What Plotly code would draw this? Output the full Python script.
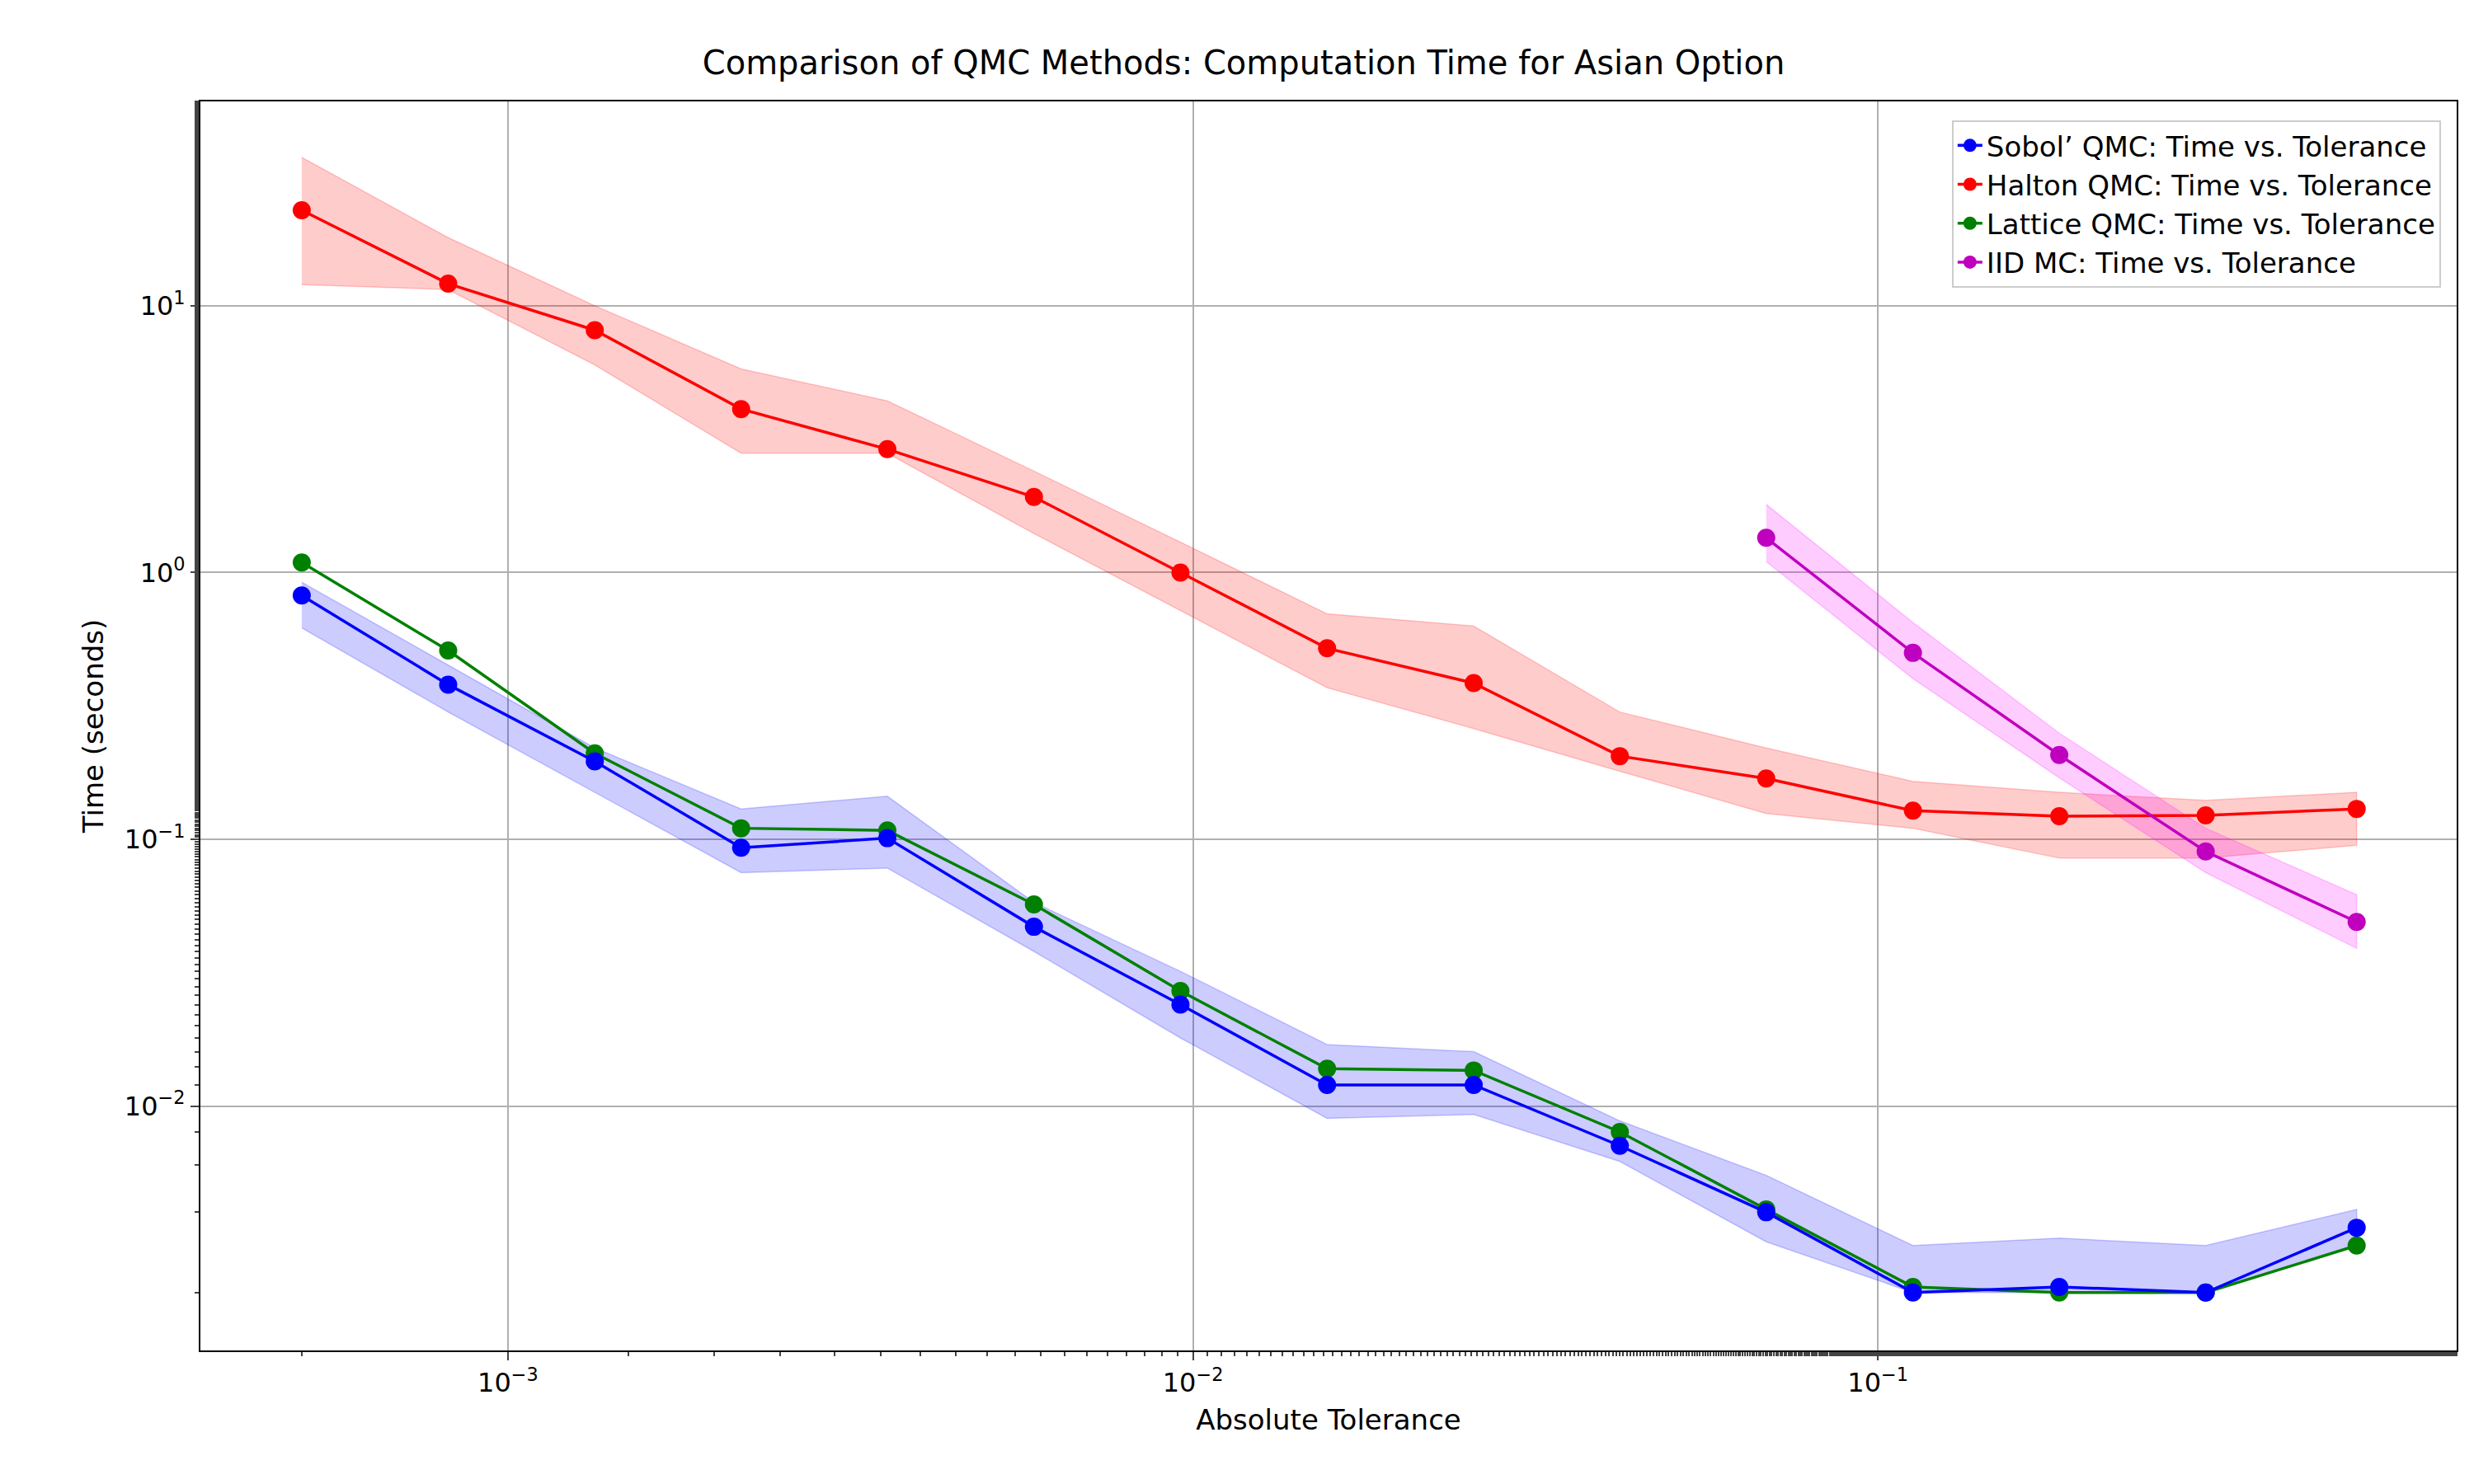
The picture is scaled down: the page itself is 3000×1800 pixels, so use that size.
import plotly.graph_objects as go

tol = [5e-4, 8.18e-4, 1.339e-3, 2.19e-3, 3.58e-3, 5.86e-3, 9.59e-3, 1.57e-2,
       2.57e-2, 4.20e-2, 6.87e-2, 0.1125, 0.184, 0.301, 0.5]
tol_iid = tol[10:]

sobol = [0.82, 0.38, 0.196, 0.093, 0.101, 0.047, 0.024, 0.012, 0.012, 0.0071,
         0.0040, 0.0020, 0.0021, 0.0020, 0.0035]
sobol_lo = [0.62, 0.30, 0.15, 0.075, 0.078, 0.038, 0.018, 0.009, 0.0093, 0.0062,
            0.0031, 0.0020, 0.0020, 0.0020, 0.0030]
sobol_hi = [0.92, 0.45, 0.22, 0.13, 0.145, 0.058, 0.032, 0.017, 0.016, 0.0088,
            0.0055, 0.0030, 0.0032, 0.0030, 0.0041]

lattice = [1.09, 0.51, 0.21, 0.11, 0.108, 0.057, 0.027, 0.0138, 0.0136, 0.0080,
           0.0041, 0.0021, 0.0020, 0.0020, 0.0030]

halton = [22.8, 12.1, 8.1, 4.1, 2.9, 1.92, 1.0, 0.52, 0.385, 0.205, 0.169,
          0.128, 0.122, 0.123, 0.130]
halton_lo = [12, 11.5, 6, 2.8, 2.8, 1.4, 0.72, 0.37, 0.26, 0.18, 0.125,
             0.11, 0.085, 0.085, 0.095]
halton_hi = [36, 18, 10, 5.8, 4.4, 2.4, 1.3, 0.70, 0.63, 0.30, 0.22,
             0.165, 0.15, 0.14, 0.15]

iid = [1.35, 0.50, 0.207, 0.090, 0.049]
iid_lo = [1.1, 0.40, 0.17, 0.075, 0.039]
iid_hi = [1.8, 0.65, 0.25, 0.11, 0.062]

fig = go.Figure()

def band(x, lo, hi, color):
    fig.add_trace(go.Scatter(x=x + x[::-1], y=hi + lo[::-1], fill="toself",
                             fillcolor=color, line=dict(width=1.5, color=color),
                             mode="lines", showlegend=False, hoverinfo="skip"))

band(tol, halton_lo, halton_hi, "rgba(255,0,0,0.2)")
band(tol, sobol_lo, sobol_hi, "rgba(0,0,255,0.2)")
band(tol_iid, iid_lo, iid_hi, "rgba(255,0,255,0.2)")

# drawing order: halton, lattice, sobol, iid; legend order set by rank
series = [("Halton QMC: Time vs. Tolerance", tol, halton, "#ff0000", 2),
          ("Lattice QMC: Time vs. Tolerance", tol, lattice, "#008000", 3),
          ("Sobol’ QMC: Time vs. Tolerance", tol, sobol, "#0000ff", 1),
          ("IID MC: Time vs. Tolerance", tol_iid, iid, "#bf00bf", 4)]
for name, x, y, c, rank in series:
    fig.add_trace(go.Scatter(x=x, y=y, name=name, mode="lines+markers",
                             legendrank=rank,
                             line=dict(color=c, width=3.5),
                             marker=dict(size=22, color=c)))

ax = dict(showline=True, linecolor="black", linewidth=2, mirror=True,
          gridcolor="#b0b0b0", gridwidth=2, ticks="outside", ticklen=10, tickwidth=2,
          tickfont=dict(size=32), zeroline=False)
fig.update_xaxes(type="log", range=[-3.449, -0.155], tickvals=[1e-3, 1e-2, 1e-1],
                 ticktext=["10<sup>−3</sup>", "10<sup>−2</sup>", "10<sup>−1</sup>"],
                 minor=dict(ticks="outside", ticklen=5, tickwidth=1.5, showgrid=False),
                 title=dict(text="Absolute Tolerance", font=dict(size=34)), **ax)
fig.update_yaxes(type="log", range=[-2.916, 1.766], tickvals=[1e-2, 1e-1, 1, 10],
                 ticktext=["10<sup>−2</sup>", "10<sup>−1</sup>", "10<sup>0</sup>", "10<sup>1</sup>"],
                 minor=dict(ticks="outside", ticklen=5, tickwidth=1.5, showgrid=False),
                 title=dict(text="Time (seconds)", font=dict(size=34)), **ax)

fig.update_layout(
    width=3000, height=1800, plot_bgcolor="white", paper_bgcolor="white",
    font=dict(family="DejaVu Sans", color="black"),
    margin=dict(l=235, r=29, t=115, b=170),
    title=dict(text="Comparison of QMC Methods: Computation Time for Asian Option",
               x=0.5, xanchor="center", y=0.97, font=dict(size=40)),
    legend=dict(x=0.993, y=0.985, xanchor="right", yanchor="top",
                bordercolor="#cccccc", borderwidth=2, font=dict(size=34),
                bgcolor="rgba(255,255,255,0.8)"),
)
fig.write_html("out.html")
